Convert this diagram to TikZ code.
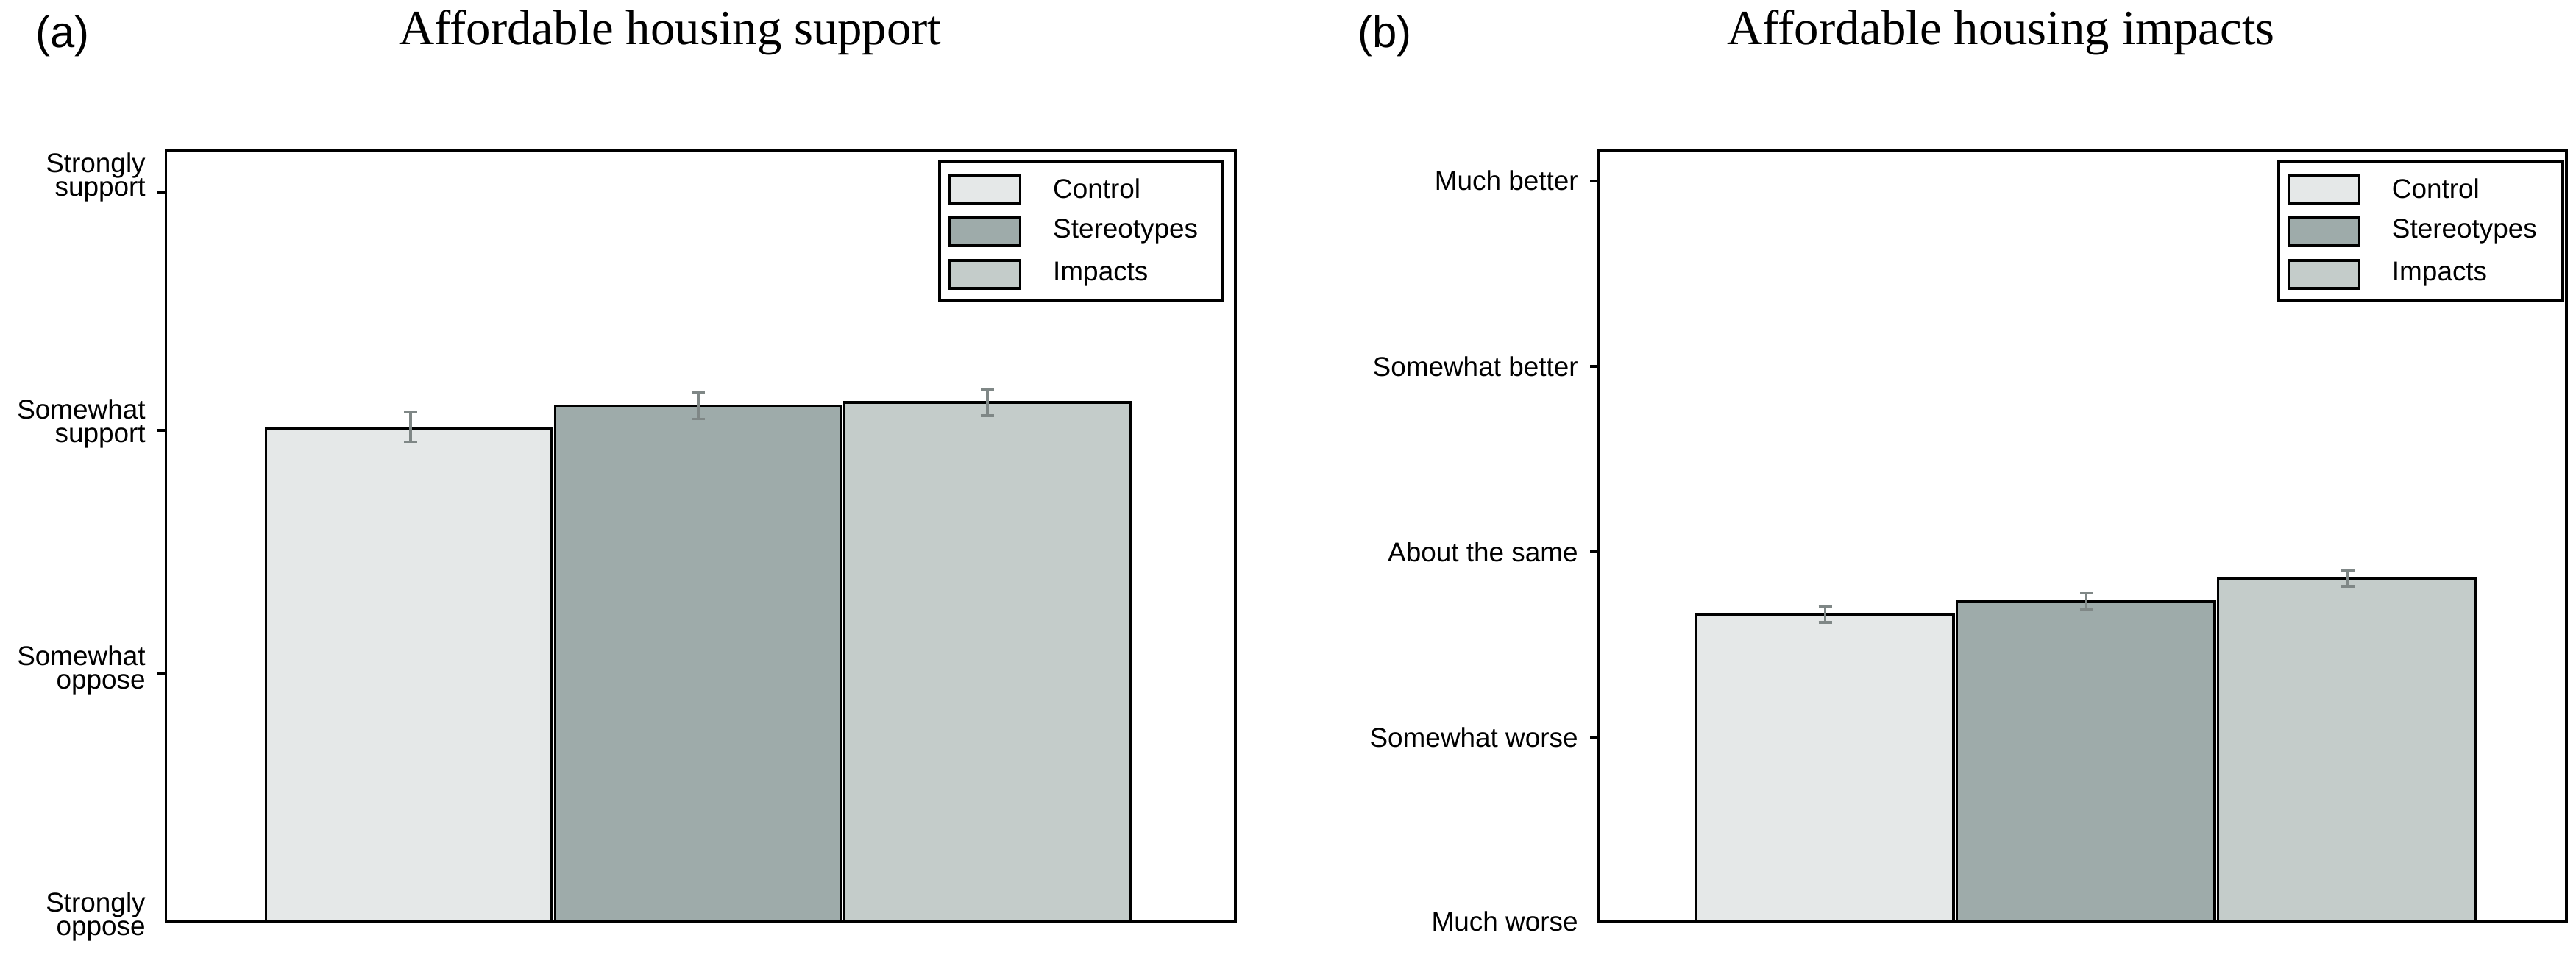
\documentclass[tikz,border=0pt]{standalone}
\usepackage{fontspec}
\setmainfont{Liberation Serif}
\setsansfont{Liberation Sans}
\usetikzlibrary{positioning}
\definecolor{ctrl}{HTML}{E5E8E8}
\definecolor{ster}{HTML}{9EABAA}
\definecolor{impa}{HTML}{C4CCCA}
\definecolor{errc}{HTML}{7F8786}
\tikzset{
  frame/.style={line width=1.1pt},
  bar/.style={draw, line width=1pt},
  err/.style={errc, line width=1pt},
  lab/.style={font=\sffamily\fontsize{10.5}{11}\selectfont, align=right, anchor=east, inner sep=2pt},
  leg/.style={font=\sffamily\fontsize{10.5}{11}\selectfont, anchor=west, inner sep=0pt},
  sw/.style={draw, line width=1pt, minimum width=0.96cm, minimum height=0.38cm, inner sep=0pt},
  ttl/.style={font=\rmfamily\fontsize{19}{20}\selectfont},
  tag/.style={font=\sffamily\fontsize{17}{18}\selectfont}
}
\begin{document}
\begin{tikzpicture}[x=0.02233cm, y=-0.02233cm]
  \useasboundingbox (0,0) rectangle (1568,581);
  % panel (a)
  \node[tag] (ta) at (38,22) {(a)};
  \node[ttl] (Ta) at (408,20) {Affordable housing support};
  \fill[ctrl] (162,261) rectangle (336,561);
  \draw[bar] (162,561) -- (162,261) -- (336,261) -- (336,561);
  \fill[ster] (338,247) rectangle (512,561);
  \draw[bar] (338,561) -- (338,247) -- (512,247) -- (512,561);
  \fill[impa] (514,245) rectangle (688,561);
  \draw[bar] (514,561) -- (514,245) -- (688,245) -- (688,561);
  \draw[err] (250,251) -- (250,269) (246,251) -- (254,251) (246,269) -- (254,269);
  \draw[err] (425,239) -- (425,255) (421,239) -- (429,239) (421,255) -- (429,255);
  \draw[err] (601,237) -- (601,253) (597,237) -- (605,237) (597,253) -- (605,253);
  \draw[frame] (101,92) rectangle (752,561);
  \draw[frame] (96,117) -- (101,117) (96,262) -- (101,262) (96,410) -- (101,410);
  \node[lab] (a1) at (92,108) {Strongly\\[-2pt]support};
  \node[lab] (a2) at (92,258) {Somewhat\\[-2pt]support};
  \node[lab] (a3) at (92,408) {Somewhat\\[-2pt]oppose};
  \node[lab] (a4) at (92,558) {Strongly\\[-2pt]oppose};
  \draw[frame] (572,98) rectangle (744,183);
  \node[sw, fill=ctrl] (la1) at (599.5,115) {};
  \node[sw, fill=ster] (la2) at (599.5,141) {};
  \node[sw, fill=impa] (la3) at (599.5,167) {};
  \node[leg, right=12pt of la1] {Control};
  \node[leg, right=12pt of la2] {Stereotypes};
  \node[leg, right=12pt of la3] {Impacts};
  % panel (b)
  \node[tag] (tb) at (843,22) {(b)};
  \node[ttl] (Tb) at (1218,20) {Affordable housing impacts};
  \fill[ctrl] (1032,374) rectangle (1189,561);
  \draw[bar] (1032,561) -- (1032,374) -- (1189,374) -- (1189,561);
  \fill[ster] (1191,366) rectangle (1348,561);
  \draw[bar] (1191,561) -- (1191,366) -- (1348,366) -- (1348,561);
  \fill[impa] (1350,352) rectangle (1507,561);
  \draw[bar] (1350,561) -- (1350,352) -- (1507,352) -- (1507,561);
  \draw[err] (1111,369) -- (1111,379) (1107,369) -- (1115,369) (1107,379) -- (1115,379);
  \draw[err] (1270,361) -- (1270,371) (1266,361) -- (1274,361) (1266,371) -- (1274,371);
  \draw[err] (1429,347) -- (1429,357) (1425,347) -- (1433,347) (1425,357) -- (1433,357);
  \draw[frame] (973,92) rectangle (1562,561);
  \draw[frame] (968,110) -- (973,110) (968,223) -- (973,223) (968,336) -- (973,336) (968,449) -- (973,449);
  \node[lab] (b1) at (964,110) {Much better};
  \node[lab] (b2) at (964,223) {Somewhat better};
  \node[lab] (b3) at (964,336) {About the same};
  \node[lab] (b4) at (964,449) {Somewhat worse};
  \node[lab] (b5) at (964,561) {Much worse};
  \draw[frame] (1387,98) rectangle (1560,183);
  \node[sw, fill=ctrl] (lb1) at (1414.5,115) {};
  \node[sw, fill=ster] (lb2) at (1414.5,141) {};
  \node[sw, fill=impa] (lb3) at (1414.5,167) {};
  \node[leg, right=12pt of lb1] {Control};
  \node[leg, right=12pt of lb2] {Stereotypes};
  \node[leg, right=12pt of lb3] {Impacts};
\end{tikzpicture}
\end{document}
